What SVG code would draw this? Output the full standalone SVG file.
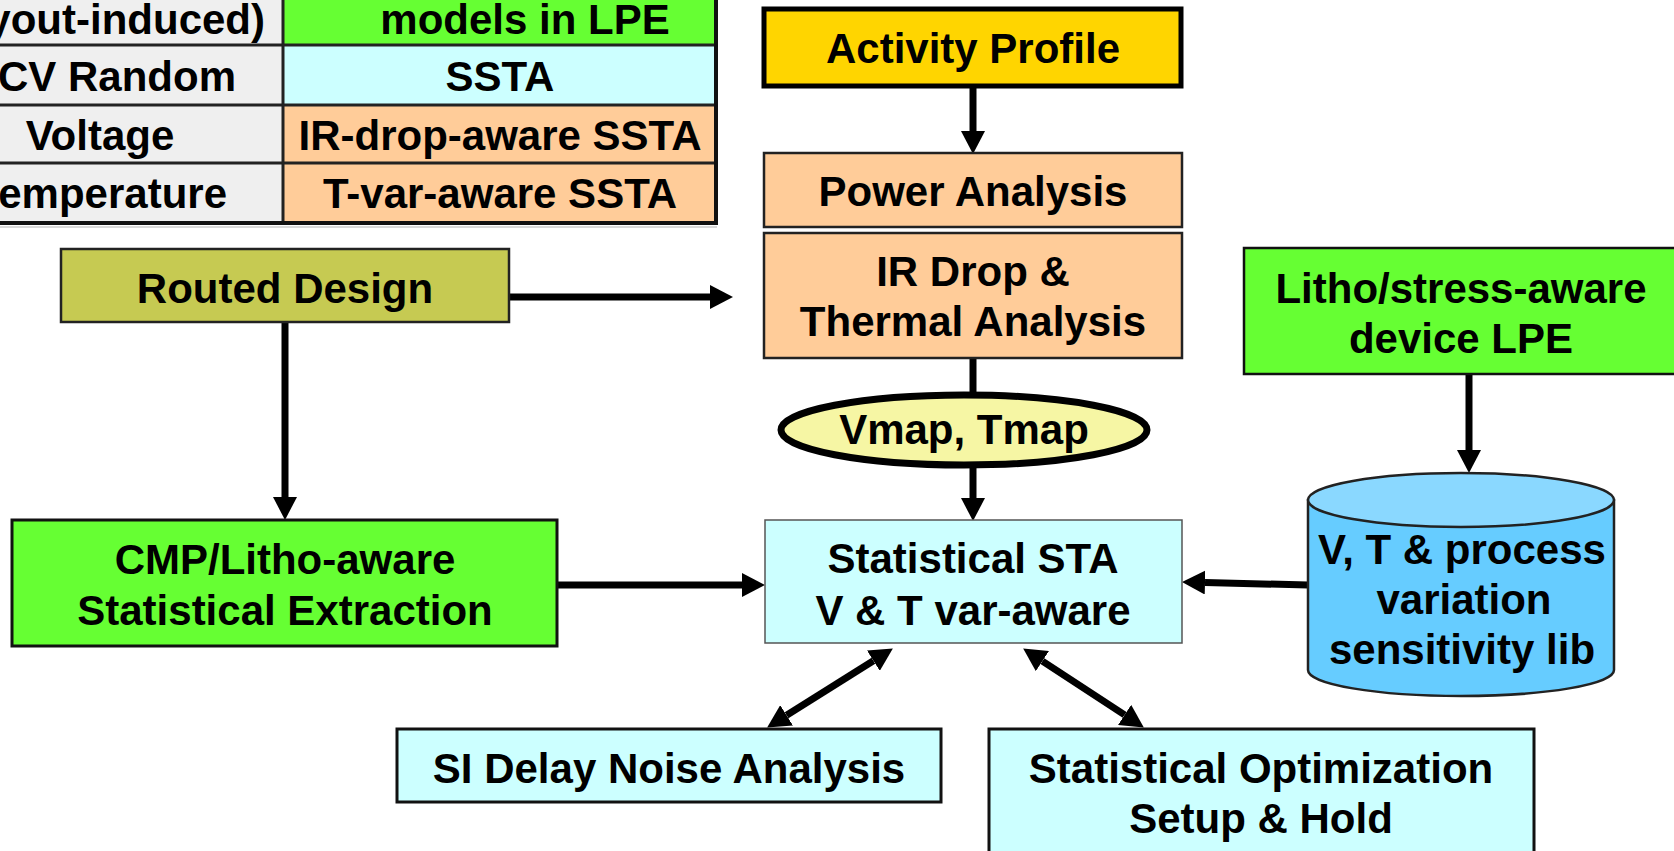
<svg xmlns="http://www.w3.org/2000/svg" width="1674" height="851" viewBox="0 0 1674 851">
  <style>
    text { font-family: "Liberation Sans", Arial, sans-serif; font-weight: bold; font-size: 42px; fill: #000; }
    .c { text-anchor: middle; }
    .e { text-anchor: end; }
    .grid { stroke: #222; stroke-width: 3; fill: none; }
    .conn { stroke: #000; stroke-width: 7; fill: none; }
    .box { stroke: #222; stroke-width: 2.5; }
  </style>
  <defs>
    <marker id="ah" markerUnits="userSpaceOnUse" markerWidth="24" markerHeight="24" refX="0" refY="12" orient="auto-start-reverse">
      <path d="M0,0 L23,12 L0,24 Z" fill="#000"/>
    </marker>
  </defs>
  <rect width="1674" height="851" fill="#fff"/>

  <!-- variation / analysis table -->
  <g id="table">
    <rect x="0" y="0" width="283" height="222" fill="#efefef"/>
    <rect x="283" y="0" width="434" height="45" fill="#66ff33"/>
    <rect x="283" y="45" width="434" height="60" fill="#ccffff"/>
    <rect x="283" y="105" width="434" height="58" fill="#ffcc99"/>
    <rect x="283" y="163" width="434" height="59" fill="#ffcc99"/>
    <path class="grid" d="M0,45 H717 M0,105 H717 M0,163 H717 M283,0 V222"/>
    <path d="M716,0 V223 H0" stroke="#111" stroke-width="4" fill="none"/>
    <line x1="0" y1="227" x2="717" y2="227" stroke="#d8d8d8" stroke-width="2"/>
    <text class="e" x="265" y="34">yout-induced)</text>
    <text class="c" x="525" y="34">models in LPE</text>
    <text class="e" x="236" y="91">CV Random</text>
    <text class="c" x="500" y="91">SSTA</text>
    <text class="c" x="100" y="150">Voltage</text>
    <text class="c" x="500" y="150">IR-drop-aware SSTA</text>
    <text class="e" x="227" y="208">emperature</text>
    <text class="c" x="500" y="208">T-var-aware SSTA</text>
  </g>

  <!-- connectors -->
  <g id="connectors">
    <line class="conn" x1="973" y1="88" x2="973" y2="131" marker-end="url(#ah)"/>
    <line class="conn" x1="973" y1="358" x2="973" y2="405"/>
    <line class="conn" x1="973" y1="466" x2="973" y2="498" marker-end="url(#ah)"/>
    <line class="conn" x1="509" y1="297" x2="710" y2="297" marker-end="url(#ah)"/>
    <line class="conn" x1="285" y1="323" x2="285" y2="497" marker-end="url(#ah)"/>
    <line class="conn" x1="557" y1="585" x2="742" y2="585" marker-end="url(#ah)"/>
    <line class="conn" x1="1469" y1="374" x2="1469" y2="450" marker-end="url(#ah)"/>
    <line class="conn" x1="1308" y1="585" x2="1205" y2="582.5" marker-end="url(#ah)"/>
    <line class="conn" x1="786.6" y1="715.3" x2="873.4" y2="660.7" marker-start="url(#ah)" marker-end="url(#ah)"/>
    <line class="conn" x1="1042.4" y1="661.1" x2="1124.6" y2="714.9" marker-start="url(#ah)" marker-end="url(#ah)"/>
  </g>

  <g id="activity-profile">
    <rect x="764" y="9" width="417" height="77" fill="#ffd500" stroke="#000" stroke-width="5"/>
    <text class="c" x="973" y="63">Activity Profile</text>
  </g>

  <g id="power-analysis">
    <rect class="box" x="764" y="153" width="418" height="74" fill="#ffcc99"/>
    <text class="c" x="973" y="206">Power Analysis</text>
  </g>

  <g id="ir-thermal">
    <rect class="box" x="764" y="233" width="418" height="125" fill="#ffcc99"/>
    <text class="c" x="973" y="286">IR Drop &amp;</text>
    <text class="c" x="973" y="336">Thermal Analysis</text>
  </g>

  <g id="vmap-tmap">
    <ellipse cx="964" cy="430" rx="183" ry="35" fill="#f6f6a4" stroke="#000" stroke-width="7"/>
    <text class="c" x="964" y="444">Vmap, Tmap</text>
  </g>

  <g id="routed-design">
    <rect class="box" x="61" y="249" width="448" height="73" fill="#c6ca52"/>
    <text class="c" x="285" y="303">Routed Design</text>
  </g>

  <g id="cmp-litho-extraction">
    <rect x="12" y="520" width="545" height="126" fill="#66ff33" stroke="#111" stroke-width="3"/>
    <text class="c" x="285" y="574">CMP/Litho-aware</text>
    <text class="c" x="285" y="625">Statistical Extraction</text>
  </g>

  <g id="statistical-sta">
    <rect x="765" y="520" width="417" height="123" fill="#ccffff" stroke="#555" stroke-width="1.5"/>
    <text class="c" x="973" y="573">Statistical STA</text>
    <text class="c" x="973" y="625">V &amp; T var-aware</text>
  </g>

  <g id="litho-stress-lpe">
    <rect x="1244" y="248" width="440" height="126" fill="#66ff33" stroke="#111" stroke-width="2.5"/>
    <text class="c" x="1461" y="303">Litho/stress-aware</text>
    <text class="c" x="1461" y="353">device LPE</text>
  </g>

  <g id="sensitivity-lib">
    <path d="M1308,500 V670 A153,26 0 0 0 1614,670 V500 Z" fill="#66ccff" stroke="#222" stroke-width="2.5"/>
    <ellipse cx="1461" cy="500" rx="153" ry="27" fill="#8ad8ff" stroke="#222" stroke-width="2.5"/>
    <text class="c" x="1462" y="564">V, T &amp; process</text>
    <text class="c" x="1464" y="614">variation</text>
    <text class="c" x="1462" y="664">sensitivity lib</text>
  </g>

  <g id="si-delay-noise">
    <rect x="397" y="729" width="544" height="73" fill="#ccffff" stroke="#111" stroke-width="3"/>
    <text class="c" x="669" y="783">SI Delay Noise Analysis</text>
  </g>

  <g id="statistical-optimization">
    <rect x="989" y="729" width="545" height="135" fill="#ccffff" stroke="#111" stroke-width="3"/>
    <text class="c" x="1261" y="783">Statistical Optimization</text>
    <text class="c" x="1261" y="833">Setup &amp; Hold</text>
  </g>
</svg>
